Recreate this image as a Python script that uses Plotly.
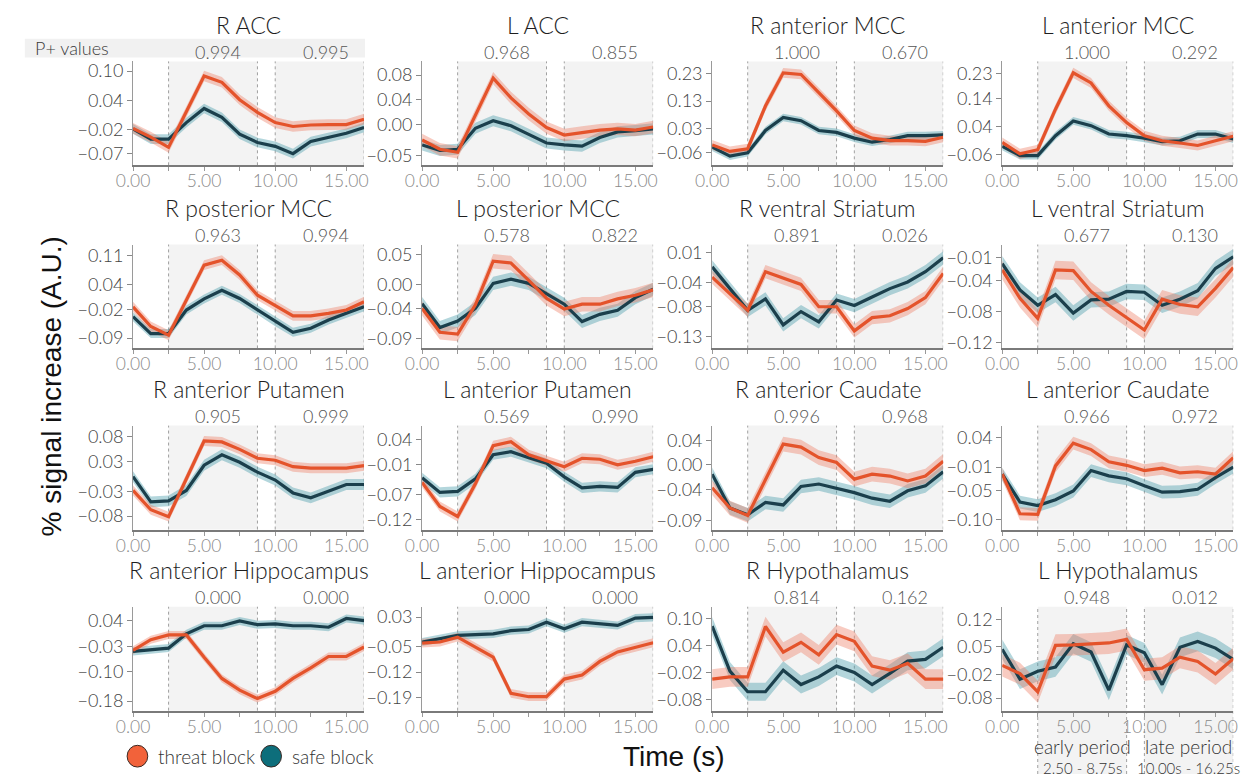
import plotly.graph_objects as go

W, H = 1252, 778

# scan times (s), one per TR
time_s = [0.0, 1.25, 2.5, 3.75, 5.0, 6.25, 7.5, 8.75, 10.0, 11.25, 12.5, 13.75, 15.0, 16.25]

region_names = [
    "R ACC", "L ACC", "R anterior MCC", "L anterior MCC",
    "R posterior MCC", "L posterior MCC", "R ventral Striatum", "L ventral Striatum",
    "R anterior Putamen", "L anterior Putamen", "R anterior Caudate", "L anterior Caudate",
    "R anterior Hippocampus", "L anterior Hippocampus", "R Hypothalamus", "L Hypothalamus",
]

# mean % signal increase per time point
r_acc_threat = [-0.018, -0.036, -0.057, 0.016, 0.090, 0.077, 0.041, 0.015, -0.006, -0.014, -0.011, -0.010, -0.010, 0.001]
r_acc_safe = [-0.019, -0.040, -0.040, -0.006, 0.023, 0.005, -0.030, -0.047, -0.055, -0.070, -0.045, -0.036, -0.028, -0.016]
l_acc_threat = [-0.025, -0.040, -0.045, 0.015, 0.075, 0.043, 0.017, -0.005, -0.017, -0.013, -0.009, -0.007, -0.009, -0.004]
l_acc_safe = [-0.033, -0.042, -0.040, -0.006, 0.006, -0.002, -0.016, -0.030, -0.033, -0.035, -0.021, -0.012, -0.010, -0.007]
r_amcc_threat = [-0.031, -0.055, -0.045, 0.112, 0.234, 0.228, 0.161, 0.094, 0.022, -0.006, -0.015, -0.015, -0.018, -0.003]
r_amcc_safe = [-0.039, -0.072, -0.060, 0.022, 0.070, 0.058, 0.022, 0.015, -0.006, -0.021, -0.011, 0.003, 0.003, 0.006]
l_amcc_threat = [-0.016, -0.057, -0.042, 0.103, 0.233, 0.197, 0.115, 0.055, 0.008, -0.010, -0.018, -0.027, -0.010, 0.006]
l_amcc_safe = [-0.030, -0.063, -0.063, 0.008, 0.061, 0.044, 0.014, 0.008, -0.001, -0.013, -0.010, 0.014, 0.014, -0.004]
r_pmcc_threat = [-0.014, -0.062, -0.083, 0.002, 0.087, 0.099, 0.063, 0.014, -0.010, -0.036, -0.036, -0.030, -0.022, -0.002]
r_pmcc_safe = [-0.038, -0.079, -0.079, -0.022, 0.005, 0.026, 0.006, -0.022, -0.050, -0.076, -0.066, -0.046, -0.030, -0.014]
l_pmcc_threat = [-0.040, -0.080, -0.083, -0.034, 0.039, 0.036, 0.007, -0.023, -0.041, -0.033, -0.033, -0.024, -0.018, -0.009]
l_pmcc_safe = [-0.032, -0.072, -0.061, -0.040, 0.002, 0.009, 0.002, -0.015, -0.033, -0.062, -0.050, -0.043, -0.022, -0.008]
r_vstr_threat = [-0.031, -0.058, -0.086, -0.022, -0.032, -0.043, -0.080, -0.080, -0.120, -0.098, -0.095, -0.083, -0.065, -0.025]
r_vstr_safe = [-0.014, -0.050, -0.086, -0.067, -0.110, -0.088, -0.105, -0.069, -0.078, -0.064, -0.050, -0.039, -0.022, 0.001]
l_vstr_threat = [-0.026, -0.063, -0.089, -0.026, -0.027, -0.054, -0.072, -0.088, -0.104, -0.064, -0.071, -0.074, -0.050, -0.023]
l_vstr_safe = [-0.018, -0.052, -0.072, -0.058, -0.082, -0.065, -0.064, -0.054, -0.055, -0.072, -0.064, -0.053, -0.024, -0.009]
r_aput_threat = [-0.028, -0.067, -0.081, -0.005, 0.072, 0.070, 0.055, 0.037, 0.033, 0.020, 0.017, 0.017, 0.017, 0.022]
r_aput_safe = [0.000, -0.051, -0.049, -0.028, 0.023, 0.044, 0.029, 0.009, -0.007, -0.033, -0.043, -0.029, -0.016, -0.016]
l_aput_threat = [-0.045, -0.093, -0.113, -0.048, 0.028, 0.036, 0.010, -0.002, -0.014, 0.003, 0.001, -0.010, -0.003, 0.006]
l_aput_safe = [-0.036, -0.065, -0.063, -0.038, 0.010, 0.016, 0.004, -0.007, -0.034, -0.056, -0.053, -0.055, -0.025, -0.019]
r_acau_threat = [-0.037, -0.070, -0.082, -0.024, 0.034, 0.029, 0.012, 0.004, -0.023, -0.015, -0.018, -0.026, -0.018, 0.006]
r_acau_safe = [-0.015, -0.070, -0.081, -0.061, -0.065, -0.035, -0.031, -0.038, -0.045, -0.054, -0.059, -0.042, -0.034, -0.011]
l_acau_threat = [-0.022, -0.090, -0.091, -0.008, 0.031, 0.020, -0.001, -0.007, -0.016, -0.012, -0.020, -0.018, -0.022, 0.006]
l_acau_safe = [-0.022, -0.070, -0.076, -0.066, -0.051, -0.016, -0.025, -0.030, -0.042, -0.053, -0.052, -0.048, -0.028, -0.010]
r_ahip_threat = [-0.041, -0.012, 0.001, 0.001, -0.060, -0.118, -0.150, -0.173, -0.153, -0.118, -0.089, -0.058, -0.058, -0.032]
r_ahip_safe = [-0.044, -0.039, -0.035, 0.004, 0.026, 0.026, 0.039, 0.029, 0.031, 0.026, 0.026, 0.022, 0.046, 0.040]
l_ahip_threat = [-0.041, -0.038, -0.025, -0.052, -0.079, -0.178, -0.187, -0.187, -0.139, -0.128, -0.091, -0.065, -0.052, -0.040]
l_ahip_safe = [-0.038, -0.029, -0.020, -0.018, -0.016, -0.007, -0.004, 0.016, -0.002, 0.016, 0.011, 0.007, 0.027, 0.029]
r_hyp_threat = [-0.035, -0.030, -0.030, 0.082, 0.025, 0.047, 0.019, 0.064, 0.049, -0.006, -0.015, 0.000, -0.035, -0.035]
r_hyp_safe = [0.083, -0.017, -0.063, -0.063, -0.015, -0.047, -0.030, -0.006, -0.020, -0.047, -0.022, 0.005, 0.009, 0.036]
l_hyp_threat = [0.003, -0.018, -0.064, 0.054, 0.055, 0.058, 0.060, 0.069, -0.008, -0.004, 0.024, 0.013, -0.019, 0.020]
l_hyp_safe = [0.044, -0.032, -0.012, -0.001, 0.058, 0.037, -0.060, 0.055, 0.035, -0.046, 0.049, 0.064, 0.047, 0.018]

# standard error of the mean per region (threat, safe)
threat_sem = [0.011, 0.010, 0.018, 0.018, 0.012, 0.012, 0.011, 0.012,
              0.010, 0.010, 0.012, 0.011, 0.011, 0.012, 0.022, 0.028]
safe_sem = [0.010, 0.009, 0.014, 0.014, 0.011, 0.011, 0.011, 0.010,
            0.011, 0.010, 0.011, 0.011, 0.011, 0.011, 0.020, 0.025]

# P+ values for early (2.50-8.75 s) and late (10.00-16.25 s) periods
p_early = ["0.994", "0.968", "1.000", "1.000", "0.963", "0.578", "0.891", "0.677",
           "0.905", "0.569", "0.996", "0.966", "0.000", "0.000", "0.814", "0.948"]
p_late = ["0.995", "0.855", "0.670", "0.292", "0.994", "0.822", "0.026", "0.130",
          "0.999", "0.990", "0.968", "0.972", "0.000", "0.000", "0.162", "0.012"]

ytick_values = [
    [0.10, 0.04, -0.02, -0.07], [0.08, 0.04, 0.00, -0.05], [0.23, 0.13, 0.03, -0.06], [0.23, 0.14, 0.04, -0.06],
    [0.11, 0.04, -0.02, -0.09], [0.05, 0.00, -0.04, -0.09], [0.01, -0.04, -0.08, -0.13], [-0.01, -0.04, -0.08, -0.12],
    [0.08, 0.03, -0.03, -0.08], [0.04, -0.01, -0.07, -0.12], [0.04, 0.00, -0.04, -0.09], [0.04, -0.01, -0.05, -0.10],
    [0.04, -0.03, -0.10, -0.18], [0.03, -0.05, -0.12, -0.19], [0.10, 0.04, -0.02, -0.08], [0.12, 0.05, -0.02, -0.08],
]

y_limits = [
    [-0.094, 0.120], [-0.066, 0.102], [-0.106, 0.276], [-0.098, 0.274],
    [-0.115, 0.137], [-0.107, 0.067], [-0.149, 0.023], [-0.128, 0.007],
    [-0.107, 0.103], [-0.139, 0.068], [-0.105, 0.064], [-0.117, 0.061],
    [-0.206, 0.078], [-0.225, 0.058], [-0.105, 0.126], [-0.112, 0.152],
]

xtick_values = [0, 2.5, 5, 7.5, 10, 12.5, 15]
xtick_labels = ["0.00", "", "5.00", "", "10.00", "", "15.00"]

early_window = [2.5, 8.75]
late_window = [10.0, 16.25]

threat_series = [r_acc_threat, l_acc_threat, r_amcc_threat, l_amcc_threat,
                 r_pmcc_threat, l_pmcc_threat, r_vstr_threat, l_vstr_threat,
                 r_aput_threat, l_aput_threat, r_acau_threat, l_acau_threat,
                 r_ahip_threat, l_ahip_threat, r_hyp_threat, l_hyp_threat]
safe_series = [r_acc_safe, l_acc_safe, r_amcc_safe, l_amcc_safe,
               r_pmcc_safe, l_pmcc_safe, r_vstr_safe, l_vstr_safe,
               r_aput_safe, l_aput_safe, r_acau_safe, l_acau_safe,
               r_ahip_safe, l_ahip_safe, r_hyp_safe, l_hyp_safe]

# ---- styling ----
THREAT_LINE = "#e4532b"
SAFE_LINE = "#1b3f4c"
THREAT_BAND = "rgba(238,126,100,0.40)"
SAFE_BAND = "rgba(66,152,168,0.40)"
PERIOD_BG = "#f3f3f3"
FONT = "Lato"

col_left = [118, 412, 707, 1002]
row_top = [58, 243, 426, 609]
panel_w, panel_h = 235, 105


def px_x(x):
    return x / W


def px_y(y):
    return 1 - y / H


def fmt_tick(v):
    s = f"{abs(v):.2f}"
    return ("\u2212" + s) if v < 0 else s


fig = go.Figure()
layout = dict(
    width=W, height=H, autosize=False,
    margin=dict(l=0, r=0, t=0, b=0),
    paper_bgcolor="white", plot_bgcolor="white",
    showlegend=False,
    font=dict(family=FONT, size=17, color="#444", weight=300),
)
shapes, annotations = [], []

for i, name in enumerate(region_names):
    r, c = divmod(i, 4)
    n = "" if i == 0 else str(i + 1)
    xa, ya = "x" + n, "y" + n
    x0, y0 = col_left[c], row_top[r]

    layout["xaxis" + n] = dict(
        domain=[px_x(x0), px_x(x0 + panel_w)], anchor=ya,
        range=[0, 16.25], showgrid=False, zeroline=False,
        showline=True, linecolor="#7a7a7a", linewidth=2,
        tickvals=xtick_values, ticktext=xtick_labels,
        ticks="outside", ticklen=4, tickcolor="#999", ticklabelstandoff=-5,
        tickfont=dict(size=17.5, color="#8a8a8a", family=FONT, weight=300),
    )
    layout["yaxis" + n] = dict(
        domain=[px_y(y0 + panel_h), px_y(y0)], anchor=xa,
        range=y_limits[i], showgrid=False, zeroline=False,
        showline=True, linecolor="#9a9a9a", linewidth=1,
        tickvals=ytick_values[i], ticktext=[fmt_tick(v) for v in ytick_values[i]],
        ticks="outside", ticklen=5, tickcolor="#888",
        tickfont=dict(size=18, color="#444", family=FONT, weight=300),
    )

    # shaded analysis windows and their dotted borders
    bottom = 0 if i == 15 else layout["yaxis" + n]["domain"][0]
    top = layout["yaxis" + n]["domain"][1]
    for a, b in (early_window, late_window):
        shapes.append(dict(type="rect", xref=xa, yref="paper", x0=a, x1=b, y0=bottom, y1=top,
                           fillcolor=PERIOD_BG, line=dict(width=0), layer="below"))
    for xv in early_window + late_window:
        shapes.append(dict(type="line", xref=xa, yref="paper", x0=xv, x1=xv, y0=bottom, y1=top,
                           line=dict(color="#a0a0a0", width=1, dash="dot"), layer="below"))

    # confidence bands then mean lines
    for series, sem, band in ((safe_series[i], safe_sem[i], SAFE_BAND),
                              (threat_series[i], threat_sem[i], THREAT_BAND)):
        upper = [v + sem for v in series]
        lower = [v - sem for v in series]
        fig.add_trace(go.Scatter(
            x=time_s + time_s[::-1], y=upper + lower[::-1], xaxis=xa, yaxis=ya,
            fill="toself", fillcolor=band, line=dict(width=0), mode="lines",
            hoverinfo="skip"))
    for series, line in ((safe_series[i], SAFE_LINE), (threat_series[i], THREAT_LINE)):
        fig.add_trace(go.Scatter(
            x=time_s, y=series, xaxis=xa, yaxis=ya, mode="lines",
            line=dict(color=line, width=3.2)))

    # panel title and P+ values
    annotations.append(dict(
        text=name, xref="paper", yref="paper", x=px_x(x0 + panel_w / 2), y=px_y(y0 - 37),
        xanchor="center", yanchor="middle", showarrow=False, borderpad=0,
        font=dict(size=23, color="#1e1e1e", family=FONT, weight=300)))
    for xv, txt in ((5.95, p_early[i]), (13.55, p_late[i])):
        annotations.append(dict(
            text=txt, xref=xa, yref="paper", x=xv, y=px_y(y0 - 10),
            xanchor="center", yanchor="middle", showarrow=False, borderpad=0,
            font=dict(size=18, color="#555", family=FONT, weight=300)))

# P+ values header strip
shapes.append(dict(type="rect", xref="paper", yref="paper", x0=px_x(8), x1=px_x(354),
                   y0=px_y(54), y1=px_y(35), fillcolor="#f1f1f1", line=dict(width=0), layer="below"))
annotations.append(dict(text="P+ values", xref="paper", yref="paper", x=px_x(17), y=px_y(44.5),
                        xanchor="left", yanchor="middle", showarrow=False, borderpad=0,
                        font=dict(size=18, color="#3a3a3a", family=FONT, weight=300)))

# period captions under the last panel
for (a, b), head, span in ((early_window, "early period", "2.50 - 8.75s"),
                           (late_window, "late period", "10.00s - 16.25s")):
    annotations.append(dict(text=head, xref="x16", yref="paper", x=(a + b) / 2, y=px_y(750.5),
                            xanchor="center", yanchor="middle", showarrow=False, borderpad=0,
                            font=dict(size=19, color="#333", family=FONT, weight=300)))
    annotations.append(dict(text=span, xref="x16", yref="paper", x=(a + b) / 2, y=px_y(772),
                            xanchor="center", yanchor="middle", showarrow=False, borderpad=0,
                            font=dict(size=15, color="#333", family=FONT, weight=300)))

# axis titles
annotations.append(dict(text="% signal increase (A.U.)", xref="paper", yref="paper",
                        x=px_x(35), y=px_y(386), textangle=-90, xanchor="center", yanchor="middle",
                        showarrow=False, font=dict(size=28, color="#111", family="Liberation Sans")))
annotations.append(dict(text="Time (s)", xref="paper", yref="paper", x=px_x(668), y=px_y(760),
                        xanchor="center", yanchor="middle", showarrow=False,
                        font=dict(size=28, color="#111", family="Liberation Sans")))

# legend swatches
for cx, label, fill in ((122.5, "threat block", "#f2623a"), (258.5, "safe block", "#0d6e7b")):
    shapes.append(dict(type="circle", xref="paper", yref="paper",
                       x0=px_x(cx - 10.5), x1=px_x(cx + 10.5), y0=px_y(771), y1=px_y(749),
                       fillcolor=fill, line=dict(color="#3a2a25", width=1)))
    annotations.append(dict(text=label, xref="paper", yref="paper", x=px_x(cx + 19), y=px_y(760),
                            xanchor="left", yanchor="middle", showarrow=False,
                            font=dict(size=19, color="#333", family=FONT, weight=300)))

layout["shapes"] = shapes
layout["annotations"] = annotations
fig.update_layout(**layout)
fig.write_html("out.html")
